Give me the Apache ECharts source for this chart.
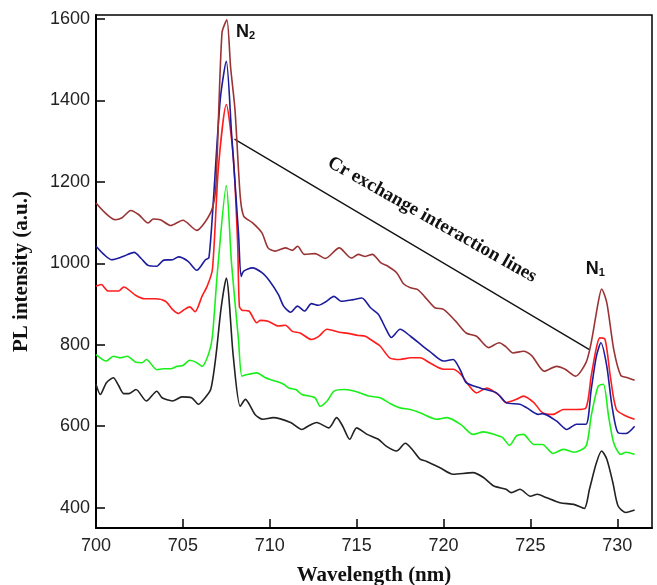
<!DOCTYPE html>
<html>
<head>
<meta charset="utf-8">
<script src="https://cdn.jsdelivr.net/npm/echarts@6/dist/echarts.min.js"></script>
<style>
  html, body { margin: 0; padding: 0; background: #fff; }
  #chart { width: 657px; height: 585px; }
</style>
</head>
<body>
<div id="chart"></div>
<script>
// PL spectra, [wavelength nm, intensity a.u.]
const brownData = [
  [700.0,1148],[700.5,1125],[701.1,1107],[701.5,1112],[702.0,1130],[702.45,1120],[703.0,1099],[703.3,1109],
  [703.7,1107],[704.3,1093],[705.0,1106],[705.8,1081],[706.3,1103],[706.7,1136],[706.9,1190],[707.25,1566],
  [707.53,1598],[707.75,1480],[708.0,1377],[708.3,1165],[708.5,1116],[709.0,1100],[709.55,1075],[709.9,1038],
  [710.3,1030],[710.9,1038],[711.3,1032],[711.6,1042],[712.0,1022],[712.6,1024],[713.2,1012],[714.0,1038],
  [714.7,1013],[715.1,1022],[715.5,1017],[715.9,1022],[716.4,1001],[716.8,993],[717.3,977],[717.7,950],
  [718.1,940],[718.5,936],[718.9,919],[719.5,891],[720.0,887],[720.7,858],[721.3,829],[721.9,821],
  [722.6,793],[723.2,805],[723.6,795],[724.0,780],[724.6,784],[725.1,772],[725.8,735],[726.5,747],
  [727.0,740],[727.6,723],[728.2,756],[728.5,805],[728.9,903],[729.1,937],[729.4,903],[729.8,788],
  [730.2,725],[730.6,719],[731.0,713]
];
const blueData = [
  [700.0,1042],[700.5,1020],[700.9,1009],[701.5,1016],[702.2,1027],[702.6,1012],[703.0,995],[703.5,993],
  [703.9,1008],[704.4,1009],[704.75,1016],[705.3,1005],[705.8,983],[706.3,1009],[706.5,1014],[706.76,1157],
  [707.15,1402],[707.5,1496],[707.8,1320],[708.2,1075],[708.35,968],[708.5,981],[709.0,989],[709.55,977],
  [710.0,956],[710.5,923],[710.8,895],[711.2,880],[711.6,895],[712.0,883],[712.4,901],[712.8,897],
  [713.2,905],[713.7,919],[714.1,907],[714.8,911],[715.3,915],[715.8,891],[716.25,875],[716.7,838],
  [717.0,818],[717.5,838],[718.1,821],[718.8,797],[719.2,784],[720.0,760],[720.55,764],[721.0,735],
  [721.3,707],[722.1,694],[723.05,682],[723.6,658],[724.4,654],[724.8,645],[725.45,629],[725.7,631],
  [726.5,613],[727.1,592],[727.65,605],[728.2,605],[728.5,690],[728.8,772],[729.06,805],[729.4,747],
  [729.7,649],[730.05,584],[730.5,582],[731.0,600]
];
const redData = [
  [700.0,944],[700.3,948],[700.7,932],[701.3,932],[701.6,942],[702.3,921],[702.8,913],[703.4,913],
  [704.0,907],[704.4,887],[704.75,877],[705.1,887],[705.4,893],[705.7,881],[706.1,919],[706.4,944],
  [706.7,985],[707.05,1238],[707.5,1390],[707.9,1263],[708.15,1050],[708.25,895],[708.4,885],[708.8,883],
  [709.25,854],[709.45,860],[709.9,858],[710.5,846],[710.9,848],[711.3,833],[711.75,829],[712.4,813],
  [712.8,820],[713.3,838],[714.0,831],[714.5,828],[715.1,823],[715.5,821],[715.8,813],[716.35,797],
  [716.9,768],[717.5,764],[718.1,768],[718.65,768],[719.2,756],[720.0,740],[720.55,740],[721.0,727],
  [721.5,698],[721.9,682],[722.5,694],[723.25,674],[723.6,658],[724.2,666],[724.6,674],[725.2,658],
  [725.7,633],[726.3,629],[726.9,641],[727.65,641],[728.2,645],[728.5,723],[728.8,793],[729.0,817],
  [729.3,813],[729.6,723],[729.95,641],[730.5,625],[731.0,617]
];
const greenData = [
  [700.0,776],[700.6,760],[701.0,772],[701.4,768],[701.8,772],[702.3,757],[702.65,756],[702.9,764],
  [703.5,739],[703.9,741],[704.3,741],[704.65,747],[705.0,749],[705.4,762],[705.8,756],[706.1,747],
  [706.5,780],[706.7,821],[707.0,985],[707.5,1191],[707.8,1000],[708.2,813],[708.4,723],[708.7,727],
  [709.25,731],[709.75,719],[710.3,711],[710.8,703],[711.1,694],[711.5,690],[711.85,678],[712.6,670],
  [712.9,649],[713.3,662],[713.7,686],[714.3,690],[714.9,686],[715.7,674],[716.35,670],[717.0,654],
  [717.5,645],[718.1,641],[718.65,633],[719.6,617],[720.2,621],[721.0,604],[721.7,580],[722.3,586],
  [722.9,580],[723.4,572],[723.8,553],[724.2,576],[724.6,580],[725.2,555],[725.7,555],[726.3,533],
  [726.9,543],[727.5,536],[728.2,551],[728.5,625],[728.9,698],[729.2,703],[729.5,625],[729.8,559],
  [730.2,531],[730.5,536],[731.0,531]
];
const blackData = [
  [700.0,703],[700.25,678],[700.6,707],[701.0,719],[701.3,700],[701.6,680],[701.9,680],[702.3,690],
  [702.9,662],[703.5,686],[703.8,670],[704.4,662],[704.95,672],[705.5,670],[705.9,654],[706.2,666],
  [706.6,690],[706.9,772],[707.2,890],[707.5,964],[707.9,772],[708.3,649],[708.6,666],[709.15,629],
  [709.6,617],[710.2,621],[711.2,609],[711.85,592],[712.2,600],[712.7,609],[713.4,596],[713.85,621],
  [714.2,600],[714.6,568],[715.0,596],[715.6,580],[716.25,568],[716.7,551],[717.3,539],[717.8,558],
  [718.2,543],[718.65,519],[719.0,514],[719.8,498],[720.55,482],[721.7,486],[722.3,474],[722.9,453],
  [723.6,445],[723.9,437],[724.4,445],[725.0,428],[725.4,433],[725.9,425],[726.7,412],[727.5,408],
  [728.1,398],[728.4,445],[728.8,510],[729.1,539],[729.4,519],[729.75,461],[730.05,404],[730.5,388],
  [731.0,394]
];
// slanted pointer line from the N2 peak to the N1 peak
const exchangeLine = [[707.97,1305],[728.4,788]];

const xTicks = [700, 705, 710, 715, 720, 725, 730];
const yTicks = [400, 600, 800, 1000, 1200, 1400, 1600];

const chart = echarts.init(document.getElementById("chart"));

const curve = (data, color) => ({
  type: "line",
  data,
  symbol: "none",
  smooth: 0.25,
  lineStyle: { color, width: 1.6 },
  z: 3,
});

chart.setOption({
  animation: false,
  backgroundColor: "#fff",
  grid: {
    left: 96, right: 5, top: 15, bottom: 57,
    outerBoundsMode: "none",
    show: true, borderColor: "#000", borderWidth: 1.5,
  },
  xAxis: {
    type: "value",
    min: 700,
    max: 732,
    name: "Wavelength (nm)",
    nameLocation: "middle",
    nameGap: 37,
    nameTextStyle: { fontFamily: "Liberation Serif", fontWeight: "bold", fontSize: 21, color: "#111" },
    axisLine: { lineStyle: { color: "#000", width: 2 } },
    axisTick: { inside: true, length: 9, customValues: xTicks, lineStyle: { color: "#000", width: 1.5 } },
    axisLabel: { customValues: xTicks, margin: 9, fontFamily: "Liberation Sans", fontSize: 18, color: "#222" },
    splitLine: { show: false },
  },
  yAxis: {
    type: "value",
    min: 350,
    max: 1610,
    name: "PL intensity (a.u.)",
    nameLocation: "middle",
    nameGap: 64,
    nameTextStyle: { fontFamily: "Liberation Serif", fontWeight: "bold", fontSize: 21, color: "#111" },
    axisLine: { lineStyle: { color: "#000", width: 2 } },
    axisTick: { inside: true, length: 9, customValues: yTicks, lineStyle: { color: "#000", width: 1.5 } },
    axisLabel: {
      customValues: yTicks, margin: 6, fontFamily: "Liberation Sans", fontSize: 18, color: "#222",
      formatter: (v) => String(v),
    },
    splitLine: { show: false },
  },
  series: [
    curve(blackData, "#222222"),
    curve(greenData, "#19f019"),
    curve(redData, "#ff1c1c"),
    curve(blueData, "#1c1c9c"),
    curve(brownData, "#9a3434"),
    {
      type: "line",
      data: exchangeLine,
      symbol: "none",
      lineStyle: { color: "#111", width: 1.3 },
      z: 2,
    },
  ],
});

// annotation texts placed from data coordinates
const px = (p) => chart.convertToPixel({ gridIndex: 0 }, p);
const rich = {
  n: { fontFamily: "Liberation Sans", fontWeight: "bold", fontSize: 18, fill: "#111" },
  s: { fontFamily: "Liberation Sans", fontWeight: "bold", fontSize: 11, fill: "#111", padding: [8, 0, 0, 0] },
};
const n2 = px([708.06, 1569]);
const n1 = px([728.19, 985]);
const crText = px([719.34, 1107]);

chart.setOption({
  graphic: [
    {
      type: "text", z: 10, x: n2[0], y: n2[1],
      style: { text: "{n|N}{s|2}", rich, align: "left", verticalAlign: "middle" },
    },
    {
      type: "text", z: 10, x: n1[0], y: n1[1],
      style: { text: "{n|N}{s|1}", rich, align: "left", verticalAlign: "middle" },
    },
    {
      type: "text", z: 10, x: crText[0], y: crText[1],
      rotation: -0.515,
      style: {
        text: "Cr exchange interaction lines",
        fontFamily: "Liberation Serif", fontWeight: "bold", fontSize: 19, fill: "#111",
        align: "center", verticalAlign: "middle",
      },
    },
  ],
});
</script>
</body>
</html>
